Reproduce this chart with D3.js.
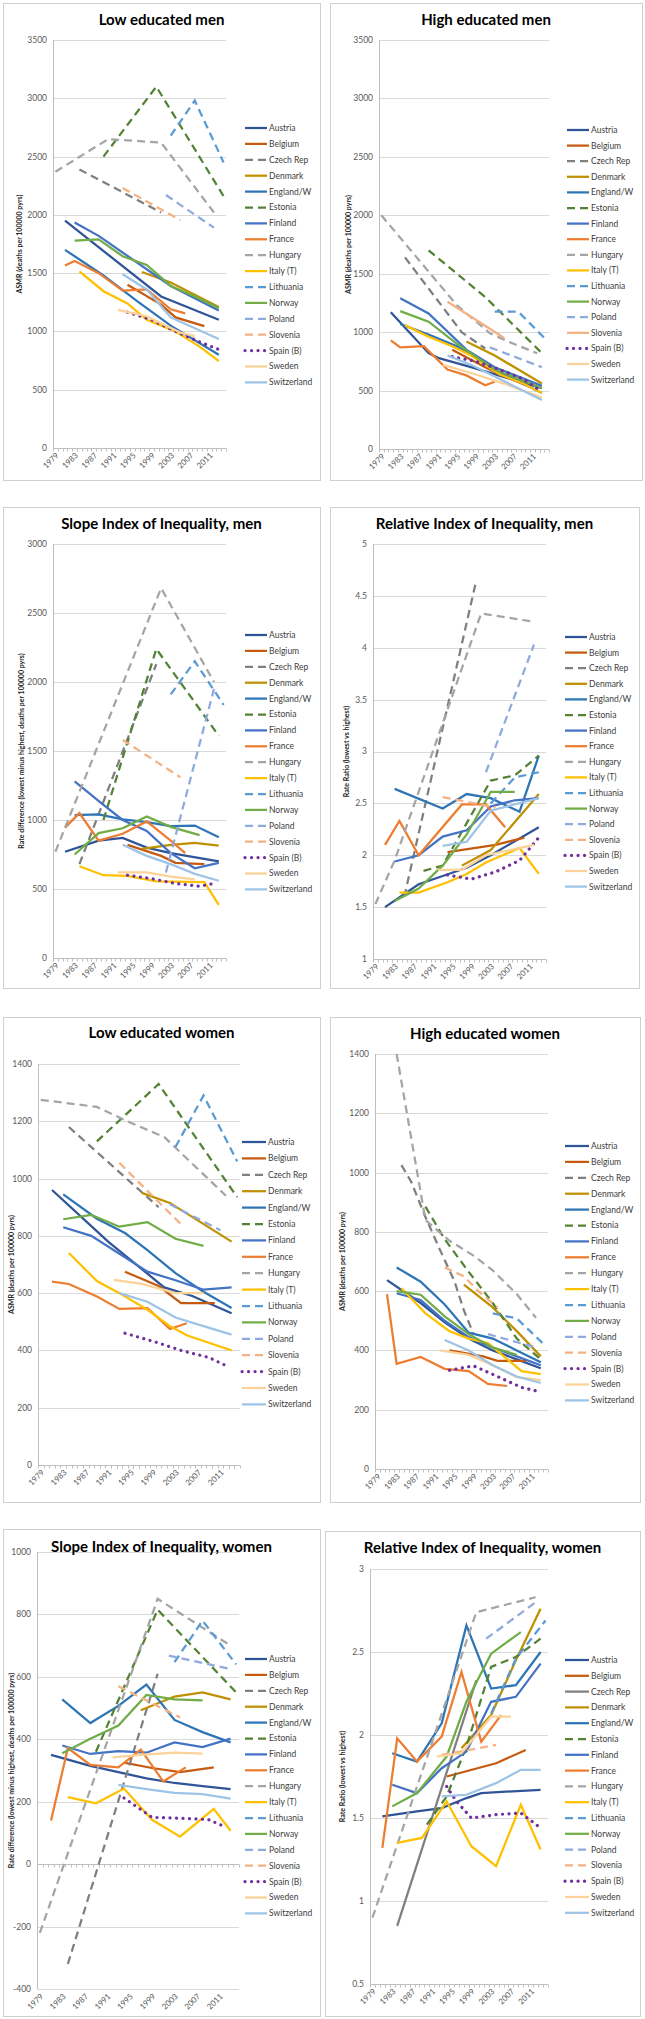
<!DOCTYPE html>
<html><head><meta charset="utf-8">
<script src="https://cdn.jsdelivr.net/npm/d3@7"></script>
<style>
body{margin:0;background:#fff;}
svg{display:block;}
text{font-family:Lato,"Open Sans",sans-serif;}
</style></head><body>
<svg id="c" width="645" height="2019"></svg>
<script>
// ---------- categories ----------
const years = d3.range(1979, 2015);
const yearLabels = years.filter(y => (y - 1979) % 4 === 0);
const countries = ["Austria","Belgium","Czech Rep","Denmark","England/W","Estonia","Finland","France","Hungary","Italy (T)","Lithuania","Norway","Poland","Slovenia","Spain (B)","Sweden","Switzerland"];
const colors = ["#2F5597","#C55A11","#7F7F7F","#BF9000","#2E75B6","#548235","#4472C4","#ED7D31","#A5A5A5","#FFC000","#5B9BD5","#70AD47","#8FAADC","#F4B183","#7030A0","#FBD29A","#9DC3E6"];
const styles = ["solid","solid","dash","solid","solid","dash","solid","solid","dash","solid","dash","solid","dash","dash","dot","solid","solid"];

// ---------- series values: [year, value], in country order ----------
const lowMen = [
 [[1981,1950],[2001,1300],[2013,1100]],
 [[1994,1400],[2001,1230],[2004,1120],[2010,1045]],
 [[1984,2390],[2001,2020]],
 [[1997,1510],[2003,1420],[2013,1210]],
 [[1981,1700],[1989,1480],[1996,1260],[2003,1050],[2013,800]],
 [[1989,2500],[2000,3100],[2014,2160]],
 [[1983,1935],[1988,1820],[2003,1390],[2013,1180]],
 [[1981,1566],[1983,1605],[1988,1500],[1993,1350],[1998,1360],[2003,1190],[2006,1155]],
 [[1979,2370],[1990,2650],[2001,2620],[2012,2020]],
 [[1984,1515],[1989,1345],[1994,1240],[1998,1100],[2004,1000],[2009,870],[2013,745]],
 [[2003,2680],[2008,2980],[2014,2450]],
 [[1983,1780],[1988,1790],[1993,1645],[1998,1570],[2003,1390],[2008,1300],[2013,1200]],
 [[2002,2170],[2012,1890]],
 [[1993,2230],[2005,1955]],
 [[1994,1165],[1999,1100],[2004,1000],[2009,910],[2013,845]],
 [[1992,1185],[1998,1130],[2005,990],[2008,960]],
 [[1993,1490],[1998,1360],[2003,1120],[2013,935]]
];
const highMen = [
 [[1981,1170],[1989,820],[1991,780],[1998,700],[2013,520]],
 [[1994,850],[2001,700],[2004,640],[2010,540]],
 [[1984,1640],[1990,1320],[1996,1000],[2001,860]],
 [[1997,920],[2003,800],[2013,560]],
 [[1983,1070],[1989,980],[1995,880],[2003,680],[2013,480]],
 [[1989,1700],[2001,1300],[2013,820]],
 [[1983,1290],[1989,1160],[1997,850],[2003,700],[2013,540]],
 [[1981,930],[1983,870],[1988,880],[1993,680],[1997,630],[2001,545],[2003,575]],
 [[1979,2000],[1990,1470],[1995,1230],[2002,990],[2007,900],[2012,820]],
 [[1984,1060],[1989,960],[1994,880],[1998,800],[2004,640],[2009,560],[2013,480]],
 [[2003,1175],[2008,1175],[2014,930]],
 [[1983,1180],[1989,1090],[1995,900],[2003,680],[2013,520]],
 [[2002,870],[2013,700]],
 [[1993,1260],[2000,1080],[2005,950]],
 [[1994,790],[1999,750],[2004,680],[2009,600],[2013,490]],
 [[1992,720],[1998,650],[2005,560],[2013,440]],
 [[1993,800],[1998,720],[2003,620],[2013,420]]
];
const siiMen = [
 [[1981,770],[1988,850],[1993,870],[1998,800],[2003,760],[2013,700]],
 [[1994,820],[2001,740],[2004,690],[2010,680]],
 [[1984,680],[2000,2130]],
 [[1997,790],[2003,820],[2008,835],[2013,815]],
 [[1983,1035],[1988,1040],[1993,1005],[1998,985],[2003,955],[2008,960],[2013,875]],
 [[1989,1000],[2000,2240],[2013,1610]],
 [[1983,1280],[1989,1110],[1993,1000],[1998,920],[2003,760],[2008,650],[2013,690]],
 [[1981,945],[1984,1050],[1988,850],[1993,900],[1998,990],[2003,850],[2006,760]],
 [[1979,770],[2001,2680],[2012,2000]],
 [[1984,665],[1989,600],[1994,595],[2000,555],[2010,550],[2013,385]],
 [[2003,1910],[2008,2150],[2014,1835]],
 [[1983,750],[1988,905],[1993,940],[1998,1025],[2003,950],[2009,890]],
 [[2002,620],[2012,1950]],
 [[1993,1580],[2005,1310]],
 [[1994,600],[1999,575],[2004,540],[2009,520],[2012,540]],
 [[1992,620],[1998,620],[2003,590],[2008,570]],
 [[1993,820],[1998,740],[2003,680],[2008,610],[2013,560]]
];
const riiMen = [
 [[1981,1.5],[1988,1.72],[1993,1.8],[1998,1.88],[2003,2.0],[2013,2.27]],
 [[1994,2.03],[2004,2.1],[2010,2.17]],
 [[1985,1.6],[2000,4.65]],
 [[1997,1.9],[2003,2.05],[2013,2.59]],
 [[1983,2.64],[1993,2.45],[1998,2.59],[2003,2.55],[2009,2.42],[2013,2.96]],
 [[1989,1.85],[1993,1.9],[2003,2.72],[2008,2.77],[2013,2.96]],
 [[1983,1.94],[1988,2.0],[1993,2.18],[1998,2.24],[2003,2.47],[2008,2.53],[2013,2.55]],
 [[1981,2.1],[1984,2.33],[1988,2.0],[1997,2.49],[2002,2.49],[2006,2.27]],
 [[1979,1.53],[1983,1.95],[2001,4.33],[2012,4.25]],
 [[1984,1.64],[1988,1.64],[1994,1.74],[1998,1.82],[2002,1.93],[2009,2.07],[2013,1.82]],
 [[2003,2.5],[2008,2.75],[2014,2.81]],
 [[1983,1.56],[1988,1.68],[1993,1.9],[1998,2.2],[2003,2.61],[2008,2.61]],
 [[2002,2.8],[2012,4.03]],
 [[1993,2.56],[2004,2.46]],
 [[1994,1.81],[1999,1.77],[2004,1.84],[2009,1.95],[2013,2.17]],
 [[1992,1.86],[1997,1.86],[2002,2.0],[2007,2.05],[2012,2.1]],
 [[1993,2.09],[1998,2.13],[2003,2.43],[2013,2.55]]
];
const lowWomen = [
 [[1981,960],[1991,780],[2001,620],[2006,590],[2013,530]],
 [[1994,675],[2000,625],[2004,565],[2010,565]],
 [[1984,1180],[2000,900]],
 [[1997,950],[2002,915],[2013,780]],
 [[1983,945],[1989,860],[1994,810],[1998,750],[2003,670],[2008,605],[2013,548]],
 [[1989,1130],[2000,1330],[2014,935]],
 [[1983,830],[1988,800],[1998,675],[2003,645],[2008,612],[2013,620]],
 [[1981,640],[1984,632],[1989,588],[1993,545],[1998,548],[2002,475],[2005,495]],
 [[1979,1275],[1989,1250],[1995,1195],[2001,1145],[2012,940]],
 [[1984,740],[1989,642],[1993,600],[1998,542],[2002,485],[2005,453],[2010,420],[2013,400]],
 [[2003,1110],[2008,1290],[2014,1060]],
 [[1983,858],[1988,873],[1993,832],[1998,848],[2003,790],[2008,765]],
 [[2002,910],[2011,820]],
 [[1993,1055],[2004,840]],
 [[1994,460],[1999,432],[2004,400],[2009,375],[2012,347]],
 [[1992,646],[1997,632],[2003,600],[2008,600]],
 [[1993,600],[1998,570],[2003,515],[2008,485],[2013,455]]
];
const highWomen = [
 [[1981,637],[1988,560],[1993,495],[1998,440],[2003,400],[2008,370],[2013,340]],
 [[1994,400],[2001,380],[2004,365],[2010,365]],
 [[1984,1025],[1986,970],[1989,850],[1992,740],[1995,635],[1997,535],[1999,455]],
 [[1997,622],[2003,545],[2008,465],[2013,380]],
 [[1983,680],[1988,632],[1993,555],[1998,460],[2003,440],[2008,400],[2013,360]],
 [[1989,885],[1993,775],[1998,665],[2003,560],[2008,440],[2013,370]],
 [[1983,593],[1988,570],[1993,500],[1998,445],[2003,410],[2008,380],[2013,350]],
 [[1981,590],[1983,355],[1988,378],[1993,338],[1998,330],[2002,287],[2006,280]],
 [[1983,1400],[1986,1120],[1989,840],[1994,770],[1999,720],[2003,670],[2008,590],[2012,510]],
 [[1984,610],[1989,525],[1994,465],[1998,440],[2002,425],[2009,330],[2013,320]],
 [[2003,525],[2008,508],[2014,415]],
 [[1983,600],[1988,588],[1993,515],[1998,455],[2003,410],[2008,385]],
 [[2002,455],[2012,410]],
 [[1993,680],[1997,650],[2000,600],[2004,545]],
 [[1994,333],[1999,348],[2004,312],[2009,275],[2013,260]],
 [[1992,400],[1998,385],[2003,350],[2008,310],[2013,300]],
 [[1993,435],[1998,400],[2003,350],[2008,312],[2013,290]]
];
const siiWomen = [
 [[1981,350],[1988,315],[1993,295],[1998,275],[2003,260],[2008,250],[2013,240]],
 [[1994,325],[1999,308],[2004,295],[2010,310]],
 [[1984,-320],[2000,610]],
 [[1997,493],[2003,537],[2008,550],[2013,528]],
 [[1983,528],[1988,452],[1993,507],[1998,575],[2003,462],[2008,423],[2013,390]],
 [[1989,360],[2000,815],[2014,550]],
 [[1983,380],[1988,353],[1993,362],[1998,357],[2003,390],[2008,375],[2013,402]],
 [[1981,140],[1984,372],[1988,318],[1993,310],[1997,367],[2001,265],[2005,310]],
 [[1979,-220],[2000,850],[2013,700]],
 [[1984,215],[1989,195],[1994,242],[1999,142],[2004,88],[2010,177],[2013,107]],
 [[2003,647],[2008,780],[2014,640]],
 [[1983,355],[1988,402],[1993,444],[1998,542],[2003,528],[2008,525]],
 [[2002,668],[2013,625]],
 [[1993,570],[2004,470]],
 [[1994,212],[1999,150],[2004,147],[2009,143],[2012,120]],
 [[1992,342],[1997,350],[2003,357],[2008,354]],
 [[1993,254],[1998,240],[2003,228],[2008,224],[2013,210]]
];
const riiWomen = [
 [[1981,1.51],[1988,1.54],[1993,1.56],[1998,1.62],[2001,1.65],[2013,1.67]],
 [[1994,1.75],[2004,1.83],[2010,1.91]],
 [[1984,0.85],[2000,2.33]],
 [[1997,1.92],[2003,2.12],[2008,2.45],[2013,2.76]],
 [[1983,1.89],[1988,1.84],[1993,2.07],[1998,2.66],[2003,2.28],[2008,2.3],[2013,2.5]],
 [[1990,1.46],[1994,1.63],[1998,1.93],[2003,2.41],[2008,2.47],[2013,2.58]],
 [[1983,1.7],[1988,1.65],[1993,1.8],[1998,1.9],[2003,2.2],[2008,2.23],[2013,2.43]],
 [[1981,1.32],[1984,1.98],[1988,1.84],[1993,1.99],[1997,2.38],[2001,1.96],[2005,2.12]],
 [[1979,0.9],[2000,2.74],[2012,2.83]],
 [[1984,1.35],[1989,1.38],[1994,1.6],[1999,1.33],[2004,1.21],[2009,1.58],[2013,1.31]],
 [[2003,2.13],[2008,2.46],[2014,2.69]],
 [[1983,1.57],[1988,1.65],[1994,1.87],[1998,2.2],[2003,2.49],[2009,2.62]],
 [[2002,2.58],[2012,2.8]],
 [[1993,1.88],[2004,1.94]],
 [[1994,1.69],[1996,1.6],[1999,1.5],[2004,1.52],[2009,1.53],[2013,1.44]],
 [[1992,1.87],[1997,1.89],[2003,2.11],[2007,2.11]],
 [[1993,1.63],[1998,1.64],[2004,1.71],[2009,1.79],[2013,1.79]]
];

// ---------- titles / axis texts ----------
const titles = ["Low educated men","High educated men","Slope Index of Inequality, men","Relative Index of Inequality, men","Low educated women","High educated women","Slope Index of Inequality, women","Relative Index of Inequality, women"];
const yTitles = ["ASMR (deaths per 100000 pyrs)","ASMR (deaths per 100000 pyrs)","Rate difference (lowest minus highest, deaths per 100000 pyrs)","Rate Ratio (lowest vs highest)","ASMR (deaths per 100000 pyrs)","ASMR (deaths per 100000 pyrs)","Rate difference (lowest minus highest, deaths per 100000 pyrs)","Rate Ratio (lowest vs highest)"];
const yDomains = [[0,3500],[0,3500],[0,3000],[1,5],[0,1400],[0,1400],[-400,1000],[0.5,3]];
const ySteps = [500,500,500,0.5,200,200,200,0.5];
const panelData = [lowMen, highMen, siiMen, riiMen, lowWomen, highWomen, siiWomen, riiWomen];

// ---------- layout (pixels) ----------
const layout = [
 {box:[3,3,320,480], px:[53,226], py:[448,40], tY:20, yt:20, leg:[245,267,128,15.9]},
 {box:[330,3,642,480], px:[379,549], py:[449,40], tY:20, yt:349, leg:[567,589,130,15.6]},
 {box:[3,507,320,988], px:[53,226], py:[958,544], tY:524, yt:22, leg:[245,267,635,15.9]},
 {box:[330,507,639,988], px:[373,546], py:[959,544], tY:524, yt:347, leg:[565,587,637,15.6]},
 {box:[3,1017,320,1502], px:[38,240], py:[1465,1064], tY:1033, yt:12, leg:[242,266,1142,16.4]},
 {box:[330,1017,640,1502], px:[375,548], py:[1469,1054], tY:1034, yt:343, leg:[565,589,1146,15.9]},
 {box:[3,1529,320,2016], px:[37,239], py:[1989,1552], tY:1547, yt:12, leg:[245,267,1659,15.9]},
 {box:[325,1531,640,2016], px:[370,548], py:[1984,1569], tY:1548, yt:343, leg:[565,589,1660,15.8]}
];
// per-panel line style overrides
const overrides = [{}, {13:"solid"}, {}, {}, {}, {}, {}, {2:"solid"}];

const svg = d3.select("#c");
const fmt = v => String(+v.toFixed(2));

function applyStyle(sel, st, color) {
  sel.attr("stroke", color).attr("fill", "none");
  if (st === "dash") sel.attr("stroke-width", 2.25).attr("stroke-dasharray", "8,5");
  else if (st === "dot") sel.attr("stroke-width", 3.2).attr("stroke-dasharray", "0.1,6.4").attr("stroke-linecap", "round");
  else sel.attr("stroke-width", 2.25);
}

panelData.forEach((data, i) => {
  const L = layout[i];
  const g = svg.append("g");
  g.append("rect").attr("x", L.box[0] + 0.5).attr("y", L.box[1] + 0.5)
    .attr("width", L.box[2] - L.box[0]).attr("height", L.box[3] - L.box[1])
    .attr("fill", "#fff").attr("stroke", "#D0D0D0");

  const x = d3.scaleBand().domain(years).range(L.px).paddingInner(0).paddingOuter(0);
  const bw = x.bandwidth();
  const cx = yr => x(yr) + bw / 2;
  const y = d3.scaleLinear().domain(yDomains[i]).range(L.py);
  const ticks = d3.range(yDomains[i][0], yDomains[i][1] + ySteps[i] / 2, ySteps[i]);

  // gridlines
  g.selectAll(".grid").data(ticks).join("line")
    .attr("x1", L.px[0]).attr("x2", L.px[1])
    .attr("y1", d => Math.round(y(d)) + 0.5).attr("y2", d => Math.round(y(d)) + 0.5)
    .attr("stroke", "#D9D9D9").attr("stroke-width", 1);
  // y tick labels
  g.selectAll(".yl").data(ticks).join("text")
    .attr("x", L.px[0] - 6).attr("y", d => y(d)).attr("dy", "0.35em")
    .attr("text-anchor", "end").attr("font-size", 8.5).attr("fill", "#595959")
    .text(fmt);
  // y axis line
  g.append("line").attr("x1", L.px[0] + 0.5).attr("x2", L.px[0] + 0.5)
    .attr("y1", L.py[1]).attr("y2", L.py[0]).attr("stroke", "#BFBFBF");
  // x axis (crosses at 0 if inside domain)
  const axisV = (yDomains[i][0] < 0 && yDomains[i][1] > 0) ? 0 : yDomains[i][0];
  const ay = Math.round(y(axisV)) + 0.5;
  g.append("line").attr("x1", L.px[0]).attr("x2", L.px[1]).attr("y1", ay).attr("y2", ay)
    .attr("stroke", "#BFBFBF");
  const bounds = years.map(yr => x(yr)).concat([L.px[1]]);
  g.selectAll(".xt").data(bounds).join("line")
    .attr("x1", d => Math.round(d) + 0.5).attr("x2", d => Math.round(d) + 0.5)
    .attr("y1", ay).attr("y2", ay + 3).attr("stroke", "#BFBFBF");
  const ly = L.py[0] + 6;
  g.selectAll(".xl").data(yearLabels).join("text")
    .attr("transform", d => `translate(${cx(d) + 2},${ly}) rotate(-45)`)
    .attr("text-anchor", "end").attr("dy", "0.35em")
    .attr("font-size", 8).attr("fill", "#595959").text(d => d);

  // y axis title
  g.append("text")
    .attr("transform", `translate(${L.yt},${(L.py[0] + L.py[1]) / 2}) rotate(-90)`)
    .attr("text-anchor", "middle").attr("dy", "0.35em")
    .attr("font-size", 7).attr("font-weight", "bold").attr("fill", "#262626")
    .text(yTitles[i]);
  // title
  g.append("text").attr("x", (L.box[0] + L.box[2]) / 2).attr("y", L.tY).attr("dy", "0.35em")
    .attr("text-anchor", "middle").attr("font-size", 15).attr("font-weight", "bold")
    .attr("fill", "#000").text(titles[i]);

  // series
  const line = d3.line().x(d => cx(d[0])).y(d => y(d[1]));
  data.forEach((s, k) => {
    const st = overrides[i][k] || styles[k];
    applyStyle(g.append("path").attr("d", line(s)), st, colors[k]);
  });

  // legend
  countries.forEach((c, k) => {
    const st = overrides[i][k] || styles[k];
    const yy = L.leg[2] + k * L.leg[3];
    applyStyle(g.append("line").attr("x1", L.leg[0]).attr("x2", L.leg[1])
      .attr("y1", yy).attr("y2", yy), st, colors[k]);
    g.append("text").attr("x", L.leg[1] + 2).attr("y", yy).attr("dy", "0.35em")
      .attr("font-size", 8.5).attr("fill", "#404040").text(c);
  });
});
</script></body></html>
